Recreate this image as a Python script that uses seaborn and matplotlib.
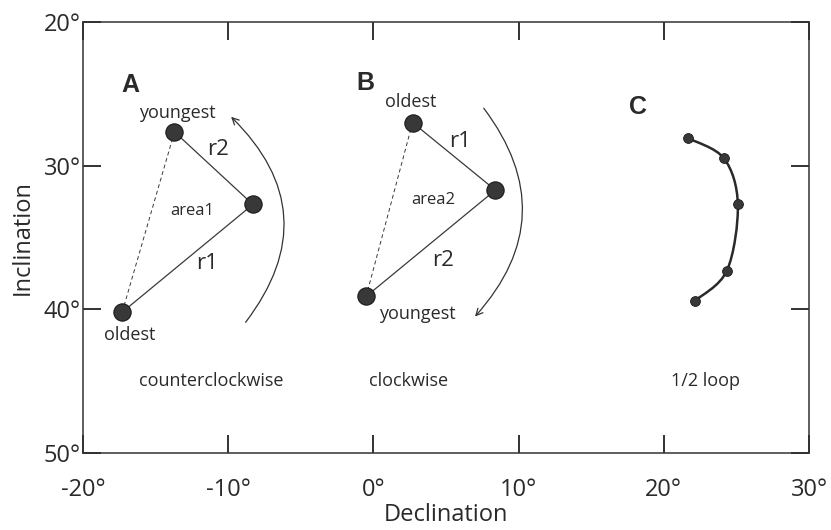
import numpy as np
import matplotlib
matplotlib.use("Agg")
import matplotlib.pyplot as plt
from matplotlib.path import Path
from matplotlib.patches import PathPatch
import seaborn as sns
import pandas as pd

# ---------------- data ----------------
# Panel A (order: oldest, middle, youngest)
a_dec = [-17.3, -8.3, -13.7]
a_inc = [40.2, 32.7, 27.65]
# Panel B (order: oldest, middle, youngest)
b_dec = [2.7, 8.4, -0.5]
b_inc = [27.0, 31.7, 39.1]
# Panel C (1/2 loop)
c_dec = [21.7, 24.15, 25.1, 24.35, 22.15]
c_inc = [28.1, 29.5, 32.7, 37.3, 39.4]

# rotation arrows (start -> end)
arcA = [(-8.8, 40.9), (-9.8, 26.6)]
arcB = [(7.6, 26.0), (7.0, 40.5)]

x_ticks = [-20, -10, 0, 10, 20, 30]
y_ticks = [20, 30, 40, 50]
x_ticklabels = ["-20°", "-10°", "0°", "10°", "20°", "30°"]
y_ticklabels = ["20°", "30°", "40°", "50°"]

sns.set_theme(style="ticks")
plt.rcParams['font.family'] = ['Open Sans', 'DejaVu Sans']

fig = plt.figure(figsize=(8.31, 5.30), dpi=100)
ax = fig.add_axes([83/831, 1-453/530, 726/831, 431/530])

dark = "#383838"
lc = "#3a3a3a"

# Panel A
dfA = pd.DataFrame({"dec": a_dec, "inc": a_inc})
sns.lineplot(data=dfA, x="dec", y="inc", sort=False, ax=ax, color=lc, lw=0.9, estimator=None)
ax.plot([a_dec[0], a_dec[2]], [a_inc[0], a_inc[2]], ls=(0, (4, 3)), color=lc, lw=0.7)
sns.scatterplot(data=dfA, x="dec", y="inc", ax=ax, s=155, color=dark, edgecolor="#1a1a1a", linewidth=0.8, zorder=5)

# Panel B
dfB = pd.DataFrame({"dec": b_dec, "inc": b_inc})
sns.lineplot(data=dfB, x="dec", y="inc", sort=False, ax=ax, color=lc, lw=0.9, estimator=None)
ax.plot([b_dec[0], b_dec[2]], [b_inc[0], b_inc[2]], ls=(0, (4, 3)), color=lc, lw=0.7)
sns.scatterplot(data=dfB, x="dec", y="inc", ax=ax, s=155, color=dark, edgecolor="#1a1a1a", linewidth=0.8, zorder=5)

# Panel C: smooth curve through the points (Catmull-Rom as cubic Bezier)
pts = np.column_stack([c_dec, c_inc])
verts = [tuple(pts[0])]
codes = [Path.MOVETO]
n = len(pts)
for i in range(n - 1):
    p0 = pts[i - 1] if i > 0 else pts[i]
    p1 = pts[i]
    p2 = pts[i + 1]
    p3 = pts[i + 2] if i + 2 < n else pts[i + 1]
    c1 = p1 + (p2 - p0) / 6
    c2 = p2 - (p3 - p1) / 6
    verts += [tuple(c1), tuple(c2), tuple(p2)]
    codes += [Path.CURVE4] * 3
ax.add_patch(PathPatch(Path(verts, codes), fill=False, color="#2a2a2a", lw=1.8, zorder=3))
dfC = pd.DataFrame({"dec": c_dec, "inc": c_inc})
sns.scatterplot(data=dfC, x="dec", y="inc", ax=ax, s=50, color=dark, edgecolor="#1a1a1a", linewidth=0.6, zorder=5)

# rotation arrows
ax.annotate("", xy=arcA[1], xytext=arcA[0],
            arrowprops=dict(arrowstyle="->", color="#333333", lw=0.9, mutation_scale=12,
                            shrinkA=0, shrinkB=0, connectionstyle="arc3,rad=0.44"))
ax.annotate("", xy=arcB[1], xytext=arcB[0],
            arrowprops=dict(arrowstyle="->", color="#333333", lw=0.9, mutation_scale=12,
                            shrinkA=0, shrinkB=0, connectionstyle="arc3,rad=-0.41"))

# labels
tc = "#2a2a2a"
def lab(x, y, s, size=13, weight="normal", family=None):
    kw = dict(ha="center", va="center", fontsize=size, color=tc, weight=weight)
    if family:
        kw["family"] = family
    ax.text(x, y, s, **kw)

bold_fam = ["Liberation Sans", "DejaVu Sans"]
lab(-16.76, 24.4, "A", 18, "bold", bold_fam)
lab(-13.5, 26.3, "youngest")
lab(-10.7, 28.9, "r2", 16)
lab(-12.5, 33.15, "area1", 12)
lab(-11.46, 36.8, "r1", 16)
lab(-16.76, 41.8, "oldest")
lab(-11.2, 45.0, "counterclockwise")

lab(-0.58, 24.25, "B", 18, "bold", bold_fam)
lab(2.6, 25.6, "oldest")
lab(5.96, 28.35, "r1", 16)
lab(4.1, 32.4, "area2", 12)
lab(4.8, 36.6, "r2", 16)
lab(3.0, 40.3, "youngest")
lab(2.45, 45.0, "clockwise")

lab(18.22, 25.95, "C", 18, "bold", bold_fam)
lab(22.84, 45.0, "1/2 loop")

# axes
ax.set_xlim(-20, 30)
ax.set_ylim(50, 20)
ax.set_xticks(x_ticks)
ax.set_xticklabels(x_ticklabels)
ax.set_yticks(y_ticks)
ax.set_yticklabels(y_ticklabels)
ax.tick_params(direction="in", length=13, width=1.3, color="#222222",
               top=True, right=True, labelsize=17, labelcolor=tc)
ax.tick_params(axis="x", pad=18)
ax.tick_params(axis="y", pad=1.5)
ax.set_xlabel("Declination", fontsize=17, color=tc, va="center")
ax.xaxis.set_label_coords(0.5, -(515 - 453) / 431)
ax.set_ylabel("Inclination", fontsize=17, color=tc, va="center")
ax.yaxis.set_label_coords((23 - 83) / 726, 0.5)
for sp in ax.spines.values():
    sp.set_visible(True)
    sp.set_linewidth(1.1)
    sp.set_color("#333333")

fig.savefig("out.png", dpi=100)
